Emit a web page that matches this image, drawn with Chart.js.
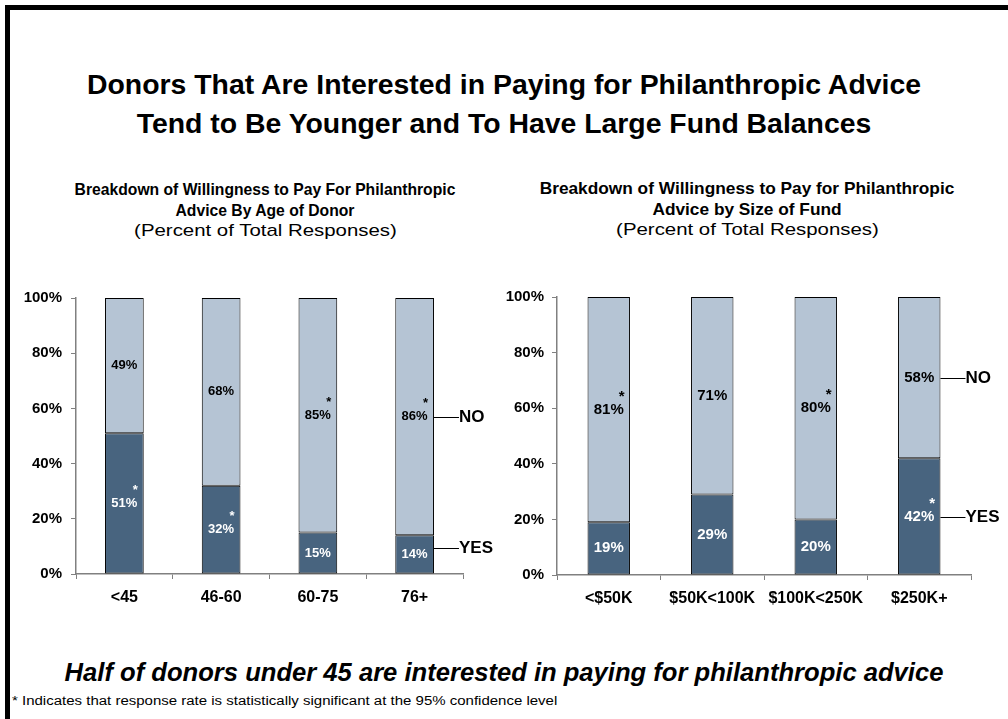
<!DOCTYPE html>
<html>
<head>
<meta charset="utf-8">
<script src="https://cdn.jsdelivr.net/npm/chart.js@4/dist/chart.umd.min.js"></script>
<style>
  html, body { margin: 0; padding: 0; background: #fff; }
  #page { position: relative; width: 1008px; height: 719px; overflow: hidden; font-family: Arial, "Liberation Sans", sans-serif; color: #000; }
  #frame { position: absolute; left: 5px; top: 5px; width: 1010px; height: 720px; border-top: 5px solid #000; border-left: 5px solid #000; }
  .title { position: absolute; left: 0; width: 1008px; text-align: center; font-weight: bold; font-size: 28.4px; line-height: 39px; }
  .sub { position: absolute; text-align: center; line-height: 20.5px; }
  .sub b { display: block; font-weight: bold; }
  .sub span { display: inline-block; font-size: 17px; transform: scaleX(1.2); }
  .chart { position: absolute; }
  #takeaway { position: absolute; left: 0; width: 1008px; top: 658px; text-align: center; font-weight: bold; font-style: italic; font-size: 25.6px; }
  #note { position: absolute; left: 12px; top: 694px; font-size: 12.5px; transform: scaleX(1.2); transform-origin: left center; white-space: nowrap; }
</style>
</head>
<body>
<div id="page">
  <div id="frame"></div>
  <div class="title" style="top:65px">Donors That Are Interested in Paying for Philanthropic Advice<br>Tend to Be Younger and To Have Large Fund Balances</div>

  <div class="sub" style="left:65px; width:400px; top:180px; font-size:15.7px"><b>Breakdown of Willingness to Pay For Philanthropic<br>Advice By Age of Donor</b><span>(Percent of Total Responses)</span></div>
  <div class="sub" style="left:537px; width:420px; top:178px; font-size:17.3px"><b>Breakdown of Willingness to Pay for Philanthropic<br>Advice by Size of Fund</b><span>(Percent of Total Responses)</span></div>

  <div class="chart" style="left:0; top:280px; width:500px; height:330px"><canvas id="ageChart"></canvas></div>
  <div class="chart" style="left:500px; top:280px; width:508px; height:330px"><canvas id="fundChart"></canvas></div>

  <div id="takeaway">Half of donors under 45 are interested in paying for philanthropic advice</div>
  <div id="note">* Indicates that response rate is statistically significant at the 95% confidence level</div>
</div>

<script>
// Age of donor
const ageLabels = ['<45', '46-60', '60-75', '76+'];
const ageYes = [51, 32, 15, 14];
const ageNo = [49, 68, 85, 86];
const ageYesSig = [true, true, false, false];
const ageNoSig = [false, false, true, true];

// Size of fund
const fundLabels = ['<$50K', '$50K<100K', '$100K<250K', '$250K+'];
const fundYes = [19, 29, 20, 42];
const fundNo = [81, 71, 80, 58];
const fundYesSig = [false, false, false, true];
const fundNoSig = [true, false, true, false];

const yTicks = [0, 20, 40, 60, 80, 100];

const DARK = '#48647f';
const LIGHT = '#b5c4d4';
const AXIS = '#808080';

// percent labels inside each segment, with a star where the result is significant
const segmentLabels = {
    id: 'segmentLabels',
    afterDatasetsDraw(chart, args, opts) {
        const ctx = chart.ctx;
        ctx.save();
        ctx.textAlign = 'center';
        ctx.textBaseline = 'middle';
        chart.data.datasets.forEach((ds, i) => {
            const meta = chart.getDatasetMeta(i);
            meta.data.forEach((bar, j) => {
                const y = (bar.y + bar.base) / 2;
                const text = ds.data[j] + '%';
                ctx.font = 'bold ' + opts.size + 'px Arial, "Liberation Sans", sans-serif';
                ctx.fillStyle = ds.labelColor;
                ctx.fillText(text, bar.x, y);
                if (ds.sig[j]) {
                    const w = ctx.measureText(text).width;
                    ctx.fillText('*', bar.x + w / 2 - 2, y - 13);
                }
            });
        });
        ctx.restore();
    }
};

// NO / YES tags to the right of the last bar
const seriesTags = {
    id: 'seriesTags',
    afterDatasetsDraw(chart) {
        const ctx = chart.ctx;
        const yScale = chart.scales.y;
        const yes = chart.data.datasets[0].data;
        const no = chart.data.datasets[1].data;
        const last = yes.length - 1;
        const bar = chart.getDatasetMeta(1).data[last];
        const x0 = bar.x + bar.width / 2;
        // keep the YES tag clear of the axis when the segment is short
        const tags = [
            ['NO', yes[last] + no[last] / 2],
            ['YES', Math.max(yes[last] / 2, 9.5)]
        ];
        ctx.save();
        ctx.strokeStyle = '#000';
        ctx.fillStyle = '#000';
        ctx.lineWidth = 1;
        ctx.font = 'bold 17px Arial, "Liberation Sans", sans-serif';
        ctx.textBaseline = 'middle';
        tags.forEach(([name, v]) => {
            const y = Math.round(yScale.getPixelForValue(v)) + 0.5;
            ctx.beginPath();
            ctx.moveTo(x0, y);
            ctx.lineTo(x0 + 25, y);
            ctx.stroke();
            ctx.fillText(name, x0 + 25, y);
        });
        ctx.restore();
    }
};

function makeChart(id, labels, yes, no, yesSig, noSig, layout) {
    const ctx = document.getElementById(id).getContext('2d');
    return new Chart(ctx, {
        type: 'bar',
        data: {
            labels: labels,
            datasets: [
                { label: 'YES', data: yes, sig: yesSig, labelColor: '#fff', backgroundColor: DARK },
                { label: 'NO', data: no, sig: noSig, labelColor: '#000', backgroundColor: LIGHT }
            ]
        },
        options: {
            responsive: true,
            maintainAspectRatio: false,
            animation: false,
            layout: { padding: { left: 0, top: layout.top, right: layout.right, bottom: 0 } },
            datasets: {
                bar: {
                    borderColor: '#000',
                    borderWidth: 1,
                    borderSkipped: false,
                    barPercentage: layout.bar,
                    categoryPercentage: 1
                }
            },
            plugins: {
                legend: { display: false },
                tooltip: { enabled: false },
                segmentLabels: { size: layout.labelSize }
            },
            scales: {
                x: {
                    stacked: true,
                    afterFit: s => { s.height = layout.xHeight; },
                    grid: { display: true, drawOnChartArea: false, color: AXIS, tickLength: 5, offset: true },
                    border: { color: AXIS, width: 1.5 },
                    ticks: { color: '#000', padding: 9, font: { family: 'Arial', size: 16, weight: 'bold' } }
                },
                y: {
                    stacked: true,
                    min: 0,
                    max: 100,
                    afterFit: s => { s.width = layout.yWidth; },
                    afterBuildTicks: s => { s.ticks = yTicks.map(v => ({ value: v })); },
                    grid: { display: true, drawOnChartArea: false, color: AXIS, tickLength: 5 },
                    border: { color: AXIS, width: 1.5 },
                    ticks: {
                        color: '#000',
                        padding: layout.yPad,
                        font: { family: 'Arial', size: 15, weight: 'bold' },
                        callback: v => v + '%'
                    }
                }
            }
        },
        plugins: [segmentLabels, seriesTags]
    });
}

makeChart('ageChart', ageLabels, ageYes, ageNo, ageYesSig, ageNoSig,
    { top: 16, right: 37, xHeight: 36, yWidth: 76, yPad: 9, bar: 0.40, labelSize: 13 });
makeChart('fundChart', fundLabels, fundYes, fundNo, fundYesSig, fundNoSig,
    { top: 13, right: 37, xHeight: 35, yWidth: 57, yPad: 8, bar: 0.41, labelSize: 15 });
</script>
</body>
</html>
